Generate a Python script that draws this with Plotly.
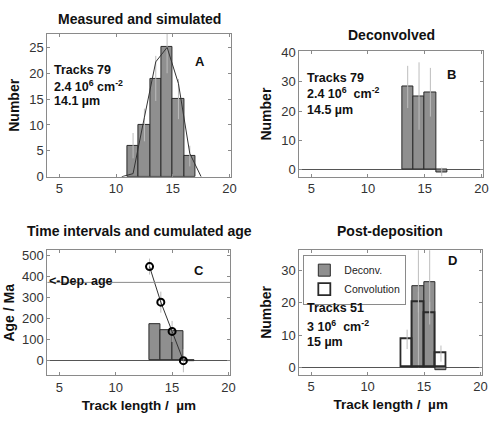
import plotly.graph_objects as go

# Track length bins (um), bin width 1
bins_a = [11.5, 12.5, 13.5, 14.5, 15.5, 16.5]
measured = [6, 10, 19, 25, 15, 4]
measured_err = [2.45, 3.16, 4.36, 5.0, 3.87, 2.0]

sim_x = [10.5, 11.5, 12.5, 13.5, 14.5, 15.5, 16.5, 17.5]
simulated = [0, 0.6, 11.5, 22.2, 25, 18, 4.5, 0]

bins_b = [13.5, 14.5, 15.5, 16.5]
deconv = [28.2, 25.1, 26.4, -0.8]
deconv_err = [7.2, 11.5, 8.3, 1.5]

bins_c = [13.5, 14.5, 15.5, 16.5]
interval_age = [172, 142, 140, -3]
cum_x = [13, 14, 15, 16]
cum_age = [445, 276, 137, -2]
cum_err = [38, 50, 50, 55]
dep_age = 370

bins_d = [14.5, 15.5, 16.5]
post_deconv = [25.1, 26.4, -0.8]
post_deconv_err = [25, 10, 0]
bins_conv = [13.5, 14.5, 15.5, 16.5]
convolution = [8.7, 20.2, 16.8, 4.3]
conv_err = [3.0, 3.2, 3.5, 2.5]

BAR = '#8f8f8f'
EDGE = '#2a2a2a'
ERR = '#bdbdbd'
FONT = 'Liberation Sans, Arial, sans-serif'

fig = go.Figure()

# A: measured histogram + simulated curve
fig.add_trace(go.Bar(x=bins_a, y=measured, width=1, marker=dict(color=BAR, line=dict(color=EDGE, width=1)),
                     error_y=dict(type='data', array=measured_err, color=ERR, thickness=1, width=0),
                     showlegend=False, xaxis='x', yaxis='y'))
fig.add_trace(go.Scatter(x=sim_x, y=simulated, mode='lines', line=dict(color='#333', width=1),
                         showlegend=False, xaxis='x', yaxis='y'))

# B: deconvolved
fig.add_trace(go.Bar(x=bins_b, y=deconv, width=1, marker=dict(color=BAR, line=dict(color=EDGE, width=1)),
                     error_y=dict(type='data', array=deconv_err, color=ERR, thickness=1, width=0),
                     showlegend=False, xaxis='x2', yaxis='y2'))

# C: time intervals and cumulated age
fig.add_trace(go.Bar(x=bins_c, y=interval_age, width=1, marker=dict(color=BAR, line=dict(color=EDGE, width=1)),
                     showlegend=False, xaxis='x3', yaxis='y3'))
fig.add_trace(go.Scatter(x=cum_x, y=cum_age, mode='lines+markers',
                         line=dict(color='#333', width=1),
                         marker=dict(symbol='circle-open', size=7, color='black', line=dict(width=2)),
                         error_y=dict(type='data', array=cum_err, color=ERR, thickness=1, width=0),
                         showlegend=False, xaxis='x3', yaxis='y3'))

# D: post-deposition
fig.add_trace(go.Bar(x=bins_d, y=post_deconv, width=1, name='Deconv.',
                     marker=dict(color=BAR, line=dict(color=EDGE, width=1)),
                     error_y=dict(type='data', array=post_deconv_err, color=ERR, thickness=1, width=0),
                     xaxis='x4', yaxis='y4'))
fig.add_trace(go.Bar(x=bins_conv, y=convolution, width=1, name='Convolution',
                     marker=dict(color='rgba(255,255,255,0)', line=dict(color=EDGE, width=1.8)),
                     error_y=dict(type='data', array=conv_err, color=ERR, thickness=1, width=0),
                     xaxis='x4', yaxis='y4'))

axis_style = dict(showline=True, mirror='ticks', linecolor='#8a8a8a', linewidth=1,
                  ticks='inside', ticklen=3, tickcolor='#8a8a8a', showgrid=False,
                  tickfont=dict(size=13, color='#333'))
xr = [3.95, 20.15]
xt = dict(tickvals=[5, 10, 15, 20], range=xr, zeroline=False)
title_font = dict(size=14, color='#111', family=FONT)

fig.update_layout(
    width=500, height=423,
    margin=dict(l=0, r=0, t=0, b=0),
    paper_bgcolor='white', plot_bgcolor='white',
    font=dict(family=FONT, color='#111'),
    barmode='overlay', bargap=0,
    xaxis=dict(domain=[0.096, 0.468], anchor='y', **xt, **axis_style),
    yaxis=dict(domain=[0.584, 0.934], anchor='x', range=[0, 27.6], tickvals=[0, 5, 10, 15, 20, 25],
               zeroline=False, title=dict(text='<b>Number</b>', font=title_font, standoff=6), **axis_style),
    xaxis2=dict(domain=[0.606, 0.978], anchor='y2', **xt, **axis_style),
    yaxis2=dict(domain=[0.584, 0.891], anchor='x2', range=[-2.4, 40.3], tickvals=[0, 10, 20, 30, 40],
                zeroline=True, zerolinecolor='#555', zerolinewidth=1,
                title=dict(text='<b>Number</b>', font=title_font, standoff=6), **axis_style),
    xaxis3=dict(domain=[0.096, 0.466], anchor='y3', **xt,
                title=dict(text='<b>Track length /\u00a0 µm</b>', font=dict(size=13.5, color='#111', family=FONT), standoff=6),
                **axis_style),
    yaxis3=dict(domain=[0.097, 0.404], anchor='x3', range=[-72, 523], tickvals=[0, 100, 200, 300, 400, 500],
                zeroline=True, zerolinecolor='#555', zerolinewidth=1,
                title=dict(text='<b>Age / Ma</b>', font=title_font, standoff=4), **axis_style),
    xaxis4=dict(domain=[0.606, 0.976], anchor='y4', **xt,
                title=dict(text='<b>Track length /\u00a0 µm</b>', font=dict(size=13.5, color='#111', family=FONT), standoff=6),
                **axis_style),
    yaxis4=dict(domain=[0.099, 0.404], anchor='x4', range=[-2.2, 36.3], tickvals=[0, 10, 20, 30],
                zeroline=True, zerolinecolor='#555', zerolinewidth=1,
                title=dict(text='<b>Number</b>', font=title_font, standoff=6), **axis_style),
    legend=dict(x=0.614, y=0.393, xanchor='left', yanchor='top', bgcolor='white',
                bordercolor='#8a8a8a', borderwidth=1, font=dict(size=10.5, color='#222'),
                tracegroupgap=0, itemwidth=30),
)

# departure age line in C
fig.add_shape(type='line', xref='x3 domain', yref='y3', x0=0, x1=1, y0=dep_age, y1=dep_age,
              line=dict(color='#8a8a8a', width=1))

anns = []


def txt(text, xref, yref, x, y, size=12.5, xanchor='left'):
    anns.append(dict(text=text, xref=xref, yref=yref, x=x, y=y, showarrow=False,
                     xanchor=xanchor, yanchor='middle', font=dict(size=size, color='#111', family=FONT)))


# panel titles
txt('<b>Measured and simulated</b>', 'paper', 'paper', 141 / 500, 1 - 12 / 423, 14, 'center')
txt('<b>Deconvolved</b>', 'paper', 'paper', 396 / 500, 1 - 29 / 423, 14, 'center')
txt('<b>Time intervals and cumulated age</b>', 'paper', 'paper', 141 / 500, 1 - 232 / 423, 14, 'center')
txt('<b>Post-deposition</b>', 'paper', 'paper', 395 / 500, 1 - 232 / 423, 14, 'center')

# A
txt('<b>Tracks 79</b>', 'x domain', 'y domain', 0.027, 0.75)
txt('<b>2.4 10<sup>6</sup> cm<sup>-2</sup></b>', 'x domain', 'y domain', 0.027, 0.635)
txt('<b>14.1 µm</b>', 'x domain', 'y domain', 0.027, 0.527)
txt('<b>A</b>', 'x domain', 'y domain', 0.828, 0.804, 13, 'center')
# B
txt('<b>Tracks 79</b>', 'x2 domain', 'y2 domain', 0.032, 0.79)
txt('<b>2.4 10<sup>6</sup>\u00a0 cm<sup>-2</sup></b>', 'x2 domain', 'y2 domain', 0.032, 0.672)
txt('<b>14.5 µm</b>', 'x2 domain', 'y2 domain', 0.032, 0.53)
txt('<b>B</b>', 'x2 domain', 'y2 domain', 0.828, 0.815, 13, 'center')
# C
txt('<b>&lt;-Dep. age</b>', 'x3 domain', 'y3 domain', 0.0, 0.754)
txt('<b>C</b>', 'x3 domain', 'y3 domain', 0.832, 0.84, 13, 'center')
# D
txt('<b>Tracks 51</b>', 'x4 domain', 'y4 domain', 0.032, 0.537)
txt('<b>3 10<sup>6</sup>\u00a0 cm<sup>-2</sup></b>', 'x4 domain', 'y4 domain', 0.032, 0.39)
txt('<b>15 µm</b>', 'x4 domain', 'y4 domain', 0.032, 0.266)
txt('<b>D</b>', 'x4 domain', 'y4 domain', 0.838, 0.915, 13, 'center')

fig.update_layout(annotations=anns)

fig.write_html("out.html", config={'displayModeBar': False},
               post_script="document.body.style.margin='0px';")
